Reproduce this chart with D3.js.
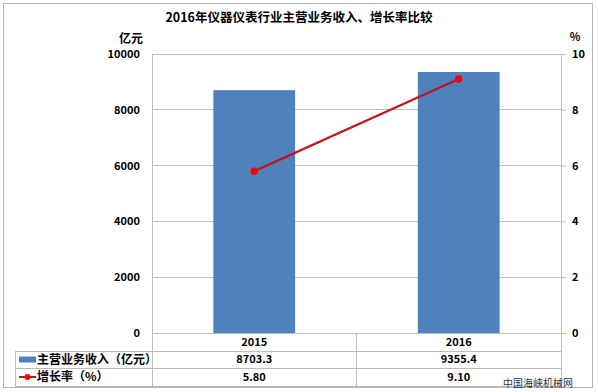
<!DOCTYPE html>
<html><head><meta charset="utf-8">
<script src="https://cdn.jsdelivr.net/npm/d3@7"></script>
<style>
body{margin:0;background:#fff;}
text{font-family:"Noto Sans CJK SC","DejaVu Sans",sans-serif;}
</style></head>
<body><svg id="c" width="598" height="392"></svg>
<script>
const categories = ["2015", "2016"];
const revenue = [8703.3, 9355.4];
const growth = [5.80, 9.10];
const revenueLabels = ["8703.3", "9355.4"];
const growthLabels = ["5.80", "9.10"];
const leftTicks = [0, 2000, 4000, 6000, 8000, 10000];
const rightTicks = [0, 2, 4, 6, 8, 10];
const title = "2016年仪器仪表行业主营业务收入、增长率比较";
const seriesNames = ["主营业务收入（亿元）", "增长率（%）"];

const svg = d3.select("#c");
const L = 152, R = 561, T = 54, B = 333;
const tableLeft = 15, rowY = [333, 351, 368, 386];
const fontW = "bold";

svg.append("rect").attr("x", 3.5).attr("y", 3.5).attr("width", 589).attr("height", 384)
  .attr("fill", "#fff").attr("stroke", "#b5b5b5");

const x = d3.scaleBand().domain(categories).range([L, R]).padding(0);
const yL = d3.scaleLinear().domain([0, 10000]).range([B, T]);
const yR = d3.scaleLinear().domain([0, 10]).range([B, T]);

// gridlines
svg.append("g").selectAll("line").data(leftTicks.filter(d => d > 0)).join("line")
  .attr("x1", L).attr("x2", R).attr("y1", d => yL(d)).attr("y2", d => yL(d))
  .attr("stroke", "#bdbdbd").attr("stroke-width", 1).attr("shape-rendering", "crispEdges");

// bars
const bw = x.bandwidth() * 0.4;
svg.append("g").selectAll("rect").data(categories).join("rect")
  .attr("x", d => x(d) + x.bandwidth() / 2 - bw / 2)
  .attr("width", bw)
  .attr("y", (d, i) => yL(revenue[i]))
  .attr("height", (d, i) => B - yL(revenue[i]))
  .attr("fill", "#4f81bd");

// left axis
const axL = svg.append("g").attr("transform", `translate(${L},0)`)
  .call(d3.axisLeft(yL).tickValues(leftTicks).tickSize(0).tickPadding(12).tickFormat(d3.format("d")));
axL.select(".domain").attr("stroke", "#bdbdbd");
axL.selectAll("text").attr("font-size", 11).attr("font-weight", fontW).attr("fill", "#000");

// right axis
const axR = svg.append("g").attr("transform", `translate(${R},0)`)
  .call(d3.axisRight(yR).tickValues(rightTicks).tickSize(5).tickSizeOuter(0).tickPadding(6));
axR.select(".domain").attr("stroke", "#bdbdbd");
axR.selectAll("line").attr("stroke", "#bdbdbd");
axR.selectAll("text").attr("font-size", 11).attr("font-weight", fontW).attr("fill", "#000");

// line
const cx = d => x(d) + x.bandwidth() / 2;
const line = d3.line().x((d, i) => cx(categories[i])).y(d => yR(d));
svg.append("path").datum(growth).attr("d", line).attr("fill", "none")
  .attr("stroke", "#c0151d").attr("stroke-width", 2.2);
svg.append("g").selectAll("circle").data(growth).join("circle")
  .attr("cx", (d, i) => cx(categories[i])).attr("cy", d => yR(d)).attr("r", 3.8)
  .attr("fill", "#ff0000");

// table
const tg = svg.append("g").attr("stroke", "#bdbdbd").attr("shape-rendering", "crispEdges");
tg.append("line").attr("x1", L).attr("x2", R).attr("y1", rowY[0]).attr("y2", rowY[0]);
[1, 2, 3].forEach(k => tg.append("line").attr("x1", tableLeft).attr("x2", R).attr("y1", rowY[k]).attr("y2", rowY[k]));
tg.append("line").attr("x1", tableLeft).attr("x2", tableLeft).attr("y1", rowY[1]).attr("y2", rowY[3]);
[L, x(categories[1]), R].forEach(v => tg.append("line").attr("x1", v).attr("x2", v).attr("y1", rowY[0]).attr("y2", rowY[3]));

const rowMid = k => (rowY[k] + rowY[k + 1]) / 2;
svg.append("g").selectAll("text").data(categories).join("text")
  .attr("x", d => cx(d)).attr("y", rowMid(0)).attr("dy", "0.36em").attr("text-anchor", "middle")
  .attr("font-size", 11).attr("font-weight", fontW).text(d => d);
svg.append("g").selectAll("text").data(revenueLabels).join("text")
  .attr("x", (d, i) => cx(categories[i])).attr("y", rowMid(1)).attr("dy", "0.36em").attr("text-anchor", "middle")
  .attr("font-size", 11).attr("font-weight", fontW).text(d => d);
svg.append("g").selectAll("text").data(growthLabels).join("text")
  .attr("x", (d, i) => cx(categories[i])).attr("y", rowMid(2)).attr("dy", "0.36em").attr("text-anchor", "middle")
  .attr("font-size", 11).attr("font-weight", fontW).text(d => d);

// legend keys
svg.append("rect").attr("x", 19).attr("y", rowMid(1) - 3).attr("width", 17).attr("height", 6).attr("fill", "#4f81bd");
svg.append("line").attr("x1", 19).attr("x2", 36).attr("y1", rowMid(2)).attr("y2", rowMid(2))
  .attr("stroke", "#c0151d").attr("stroke-width", 2);
svg.append("circle").attr("cx", 27.5).attr("cy", rowMid(2)).attr("r", 3).attr("fill", "#ff0000");
svg.append("text").attr("x", 37).attr("y", rowMid(1)).attr("dy", "0.36em").attr("font-size", 12)
  .attr("font-weight", fontW).text(seriesNames[0]);
svg.append("text").attr("x", 37).attr("y", rowMid(2)).attr("dy", "0.36em").attr("font-size", 12)
  .attr("font-weight", fontW).text(seriesNames[1]);

// titles
svg.append("text").attr("x", 299).attr("y", 22).attr("text-anchor", "middle").attr("font-size", 12.5)
  .attr("font-weight", fontW).text(title);
svg.append("text").attr("x", 143).attr("y", 39).attr("dy", "0.36em").attr("text-anchor", "end").attr("font-size", 12)
  .attr("font-weight", fontW).text("亿元");
svg.append("text").attr("x", 575).attr("y", 37).attr("dy", "0.36em").attr("text-anchor", "middle").attr("font-size", 11)
  .attr("font-weight", fontW).text("%");
svg.append("text").attr("x", 573).attr("y", 383).attr("dy", "0.36em").attr("text-anchor", "end").attr("font-size", 10)
  .attr("fill", "#333").text("中国海峡机械网");
</script></body></html>
